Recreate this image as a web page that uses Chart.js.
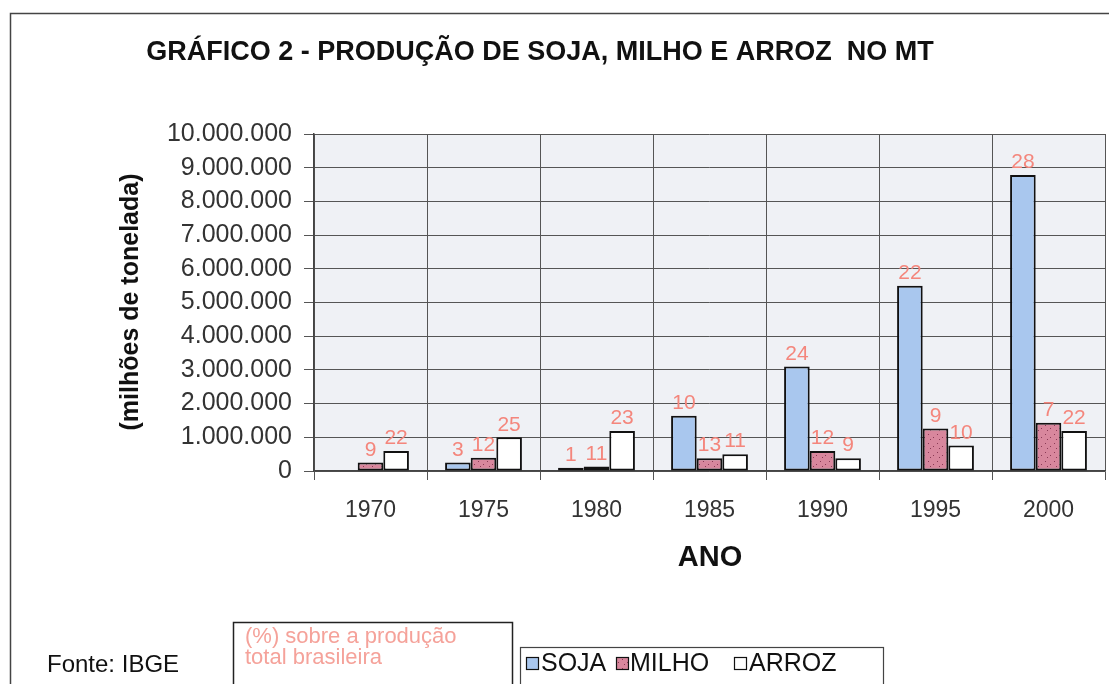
<!DOCTYPE html>
<html><head><meta charset="utf-8">
<script src="https://cdn.jsdelivr.net/npm/chart.js@4.4.0/dist/chart.umd.min.js"></script>
<style>html,body{margin:0;padding:0;background:#fff;}#wrap{width:1109px;height:684px;position:relative}</style>
</head><body><div id="wrap"><canvas id="c" width="1109" height="684"></canvas></div>
<script>
const categories = ['1970', '1975', '1980', '1985', '1990', '1995', '2000'];
const seriesNames = ['SOJA', 'MILHO', 'ARROZ'];
const soja  = [null, 250000, 100000, 1640000, 3100000, 5500000, 8780000];
const milho = [250000, 390000, 130000, 380000, 590000, 1260000, 1430000];
const arroz = [590000, 1000000, 1190000, 500000, 380000, 760000, 1190000];
const sojaPct  = [null, 3, 1, 10, 24, 22, 28];
const milhoPct = [9, 12, 11, 13, 12, 9, 7];
const arrozPct = [22, 25, 23, 11, 9, 10, 22];
const yMin = 0, yMax = 10000000, yStep = 1000000;
const titleText = 'GRÁFICO 2 - PRODUÇÃO DE SOJA, MILHO E ARROZ  NO MT';
const yTitle = '(milhões de tonelada)';
const xTitle = 'ANO';
const sourceText = 'Fonte: IBGE';
const noteLines = ['(%) sobre a produção', 'total brasileira'];

const FONT = "'Liberation Sans', Arial, sans-serif";
const BLUE = '#a9c7ee', PINK = '#d8879d', WHITE = '#ffffff';

function makeDots() {
  const p = document.createElement('canvas');
  p.width = 9; p.height = 9;
  const g = p.getContext('2d');
  g.fillStyle = PINK; g.fillRect(0, 0, 9, 9);
  g.fillStyle = '#8a3a55';
  g.fillRect(1, 2, 1, 1); g.fillRect(6, 5, 1, 1); g.fillRect(3, 7, 1, 1);
  return g.createPattern(p, 'repeat');
}
const pinkPattern = makeDots();
const pctArrays = [sojaPct, milhoPct, arrozPct];

function fmt(v) { return String(v).replace(/\B(?=(\d{3})+(?!\d))/g, '.'); }

const decor = {
  id: 'decor',
  beforeDraw(chart) {
    const ctx = chart.ctx, a = chart.chartArea;
    ctx.save();
    ctx.fillStyle = '#fff'; ctx.fillRect(0, 0, chart.width, chart.height);
    ctx.fillStyle = '#eff1f5'; ctx.fillRect(a.left, a.top, a.right - a.left, a.bottom - a.top);
    ctx.restore();
  },
  afterDatasetsDraw(chart) {
    const ctx = chart.ctx;
    ctx.save();
    ctx.font = "21px " + FONT;
    ctx.fillStyle = '#f4867c';
    ctx.textAlign = 'center';
    ctx.textBaseline = 'bottom';
    chart.data.datasets.forEach((ds, i) => {
      const meta = chart.getDatasetMeta(i);
      meta.data.forEach((bar, j) => {
        const p = pctArrays[i][j];
        if (p === null || ds.data[j] === null) return;
        ctx.fillText(String(p), bar.x, bar.y - 2);
      });
    });
    ctx.restore();
  },
  afterDraw(chart) {
    const ctx = chart.ctx;
    ctx.save();
    // outer frame
    ctx.strokeStyle = '#444'; ctx.lineWidth = 1.5;
    ctx.beginPath(); ctx.moveTo(10.5, 700); ctx.lineTo(10.5, 13.5); ctx.lineTo(1120, 13.5); ctx.stroke();
    // title
    ctx.fillStyle = '#111';
    ctx.font = "bold 27px " + FONT;
    ctx.textAlign = 'center'; ctx.textBaseline = 'middle';
    ctx.fillText(titleText, 540, 53);
    // x title
    ctx.font = "bold 29px " + FONT;
    ctx.fillText(xTitle, 710, 558);
    // y title
    ctx.save();
    ctx.translate(131, 302); ctx.rotate(-Math.PI / 2);
    ctx.font = "bold 25px " + FONT;
    ctx.fillText(yTitle, 0, 0);
    ctx.restore();
    // source
    ctx.textAlign = 'left';
    ctx.font = "24px " + FONT;
    ctx.fillText(sourceText, 47, 665);
    // note box
    ctx.strokeStyle = '#222'; ctx.lineWidth = 1.5;
    ctx.strokeRect(233.5, 622.5, 279, 80);
    ctx.fillStyle = '#f5a29a';
    ctx.font = "22px " + FONT;
    ctx.fillText(noteLines[0], 245, 637);
    ctx.fillText(noteLines[1], 245, 658);
    // legend box
    ctx.strokeStyle = '#444'; ctx.lineWidth = 1.2;
    ctx.strokeRect(520.5, 647.5, 363, 60);
    const fills = [BLUE, pinkPattern, WHITE];
    const sqX = [526, 616, 734];
    const txX = [541, 630, 749];
    ctx.font = "25px " + FONT;
    chart.data.datasets.forEach((ds, i) => {
      ctx.fillStyle = fills[i];
      ctx.fillRect(sqX[i], 657, 12, 12);
      ctx.strokeStyle = '#111'; ctx.lineWidth = 1.2;
      ctx.strokeRect(sqX[i] + 0.5, 657.5, 12, 12);
      ctx.fillStyle = '#111';
      ctx.fillText(ds.label, txX[i], 664);
    });
    ctx.restore();
  }
};

new Chart(document.getElementById('c'), {
  type: 'bar',
  data: {
    labels: categories,
    datasets: [
      { label: seriesNames[0], data: soja, backgroundColor: BLUE },
      { label: seriesNames[1], data: milho, backgroundColor: pinkPattern },
      { label: seriesNames[2], data: arroz, backgroundColor: WHITE }
    ].map(d => Object.assign(d, { borderColor: '#111', borderWidth: 2, borderSkipped: false, categoryPercentage: 0.68, barPercentage: 1.0 }))
  },
  options: {
    responsive: false,
    animation: false,
    devicePixelRatio: 1,
    layout: { padding: { left: 10, right: 4, top: 134, bottom: 153 } },
    plugins: { legend: { display: false }, title: { display: false }, tooltip: { enabled: false } },
    scales: {
      x: {
        afterFit: s => { s.height = 60; },
        grid: { color: '#555', lineWidth: 1, tickLength: 9, offset: true },
        border: { color: '#444', width: 1.5 },
        ticks: { color: '#333', padding: 17, autoSkip: false, font: { family: FONT, size: 23 } }
      },
      y: {
        min: yMin, max: yMax,
        afterFit: s => { s.width = 304; },
        grid: { color: '#555', lineWidth: 1, tickLength: 10 },
        border: { color: '#444', width: 1.5 },
        ticks: { stepSize: yStep, color: '#333', padding: 12, autoSkip: false, font: { family: FONT, size: 25 }, callback: v => fmt(v) }
      }
    }
  },
  plugins: [decor]
});
</script></body></html>
